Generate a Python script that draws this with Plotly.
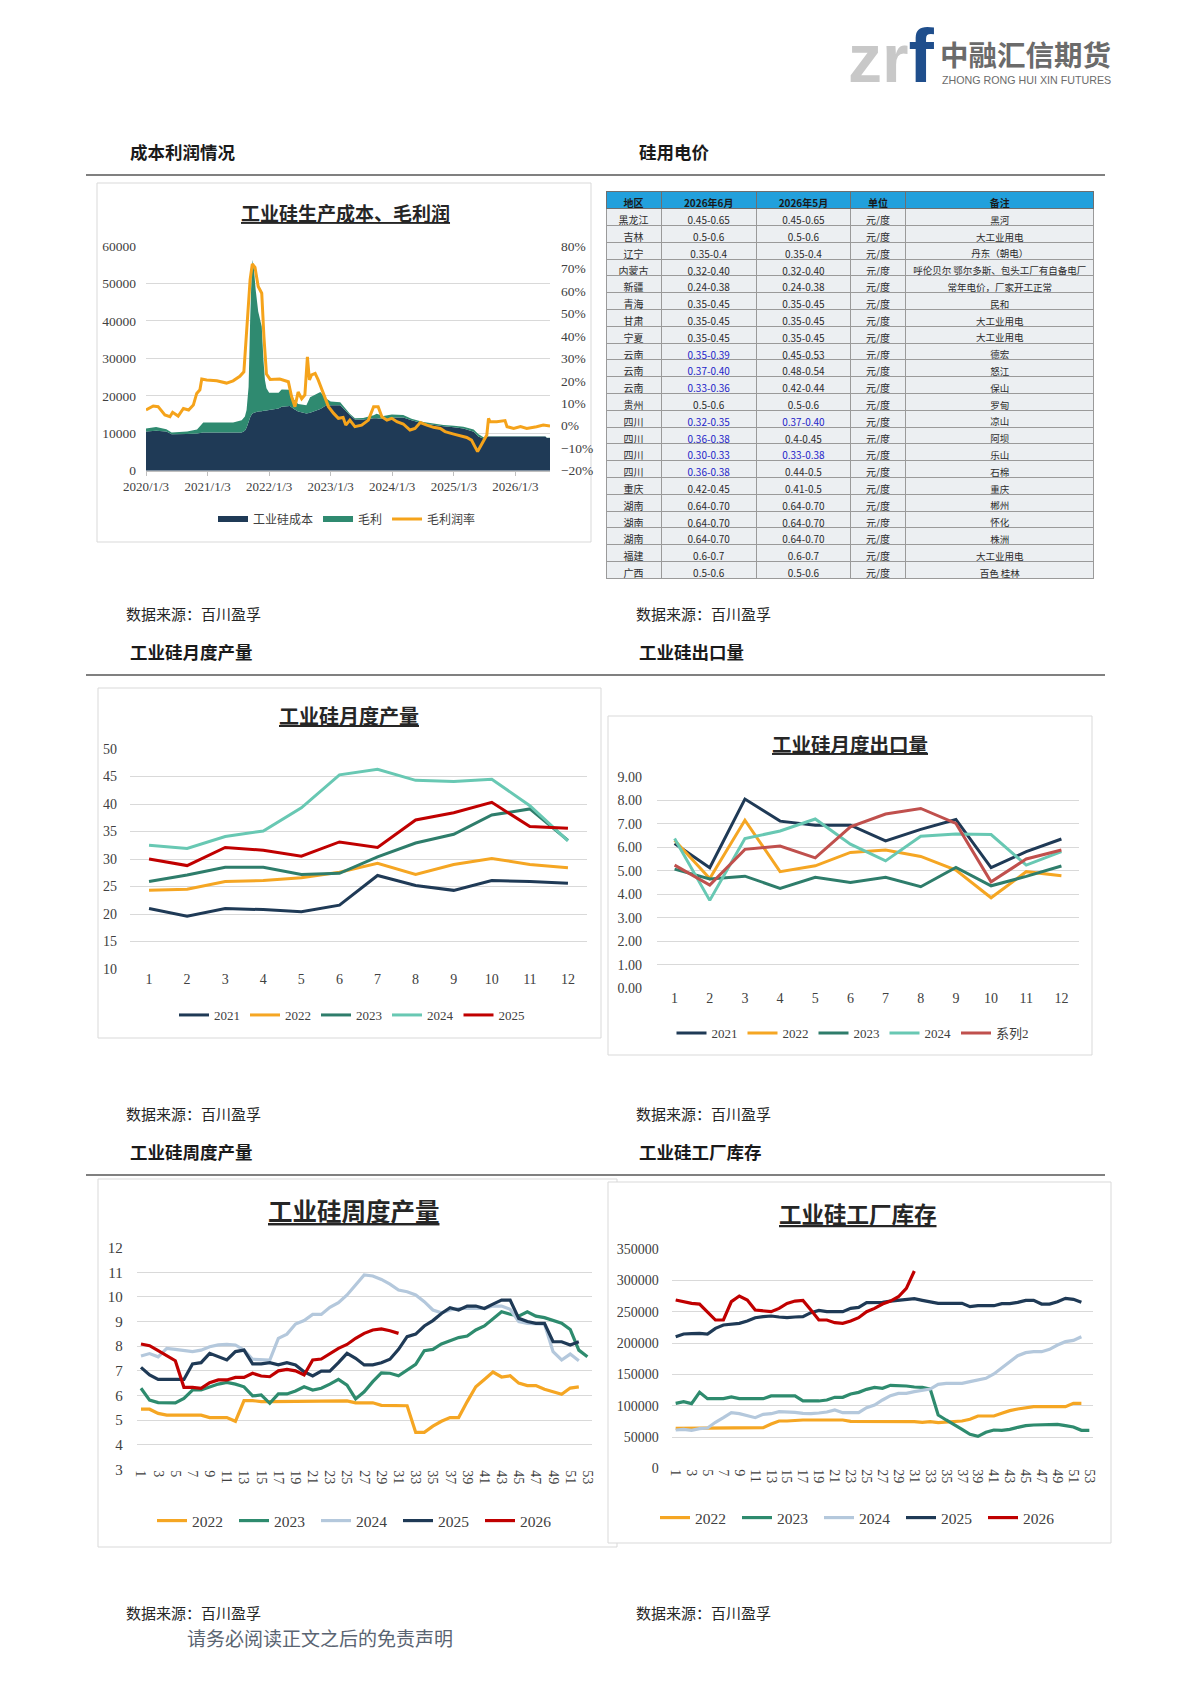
"""
工业硅 周报页面 - 成本利润 / 电价 / 产量 / 出口 / 库存
One page, drawn as a single plotly figure (1190 x 1683).
"""

import plotly.graph_objects as go

# -----------------------------------------
# DATA
# -----------------------------------------
# 工业硅生产成本、毛利润
area_dates = [
    "2020-01-03", "2020-03-03", "2020-05-03", "2020-06-03", "2020-09-03", "2020-11-01", "2020-12-08",
    "2021-06-03", "2021-07-24", "2021-08-12", "2021-08-22", "2021-09-03", "2021-09-12", "2021-09-21",
    "2021-09-27", "2021-10-05", "2021-10-15", "2021-10-30", "2021-11-20", "2021-11-30", "2021-12-09",
    "2021-12-18", "2022-01-03", "2022-02-28", "2022-03-18", "2022-05-06", "2022-05-30", "2022-06-24",
    "2022-08-12", "2022-09-03", "2022-11-03", "2022-12-01", "2023-01-03", "2023-03-01", "2023-03-28",
    "2023-04-27", "2023-05-27", "2023-07-15", "2023-09-15", "2023-10-03", "2023-11-12", "2024-01-01",
    "2024-03-09", "2024-04-27", "2024-07-06", "2024-11-03", "2025-01-03", "2025-03-01", "2025-05-01",
    "2025-05-28", "2025-06-28", "2025-07-28", "2026-06-30", "2026-07-10", "2026-07-28",
]
cost = [
    10500, 10700, 10500, 9700, 9800, 9900, 10200, 10200, 10200, 10700,
    11500, 13000, 14200, 15000, 15300, 15500, 15600, 15800, 15900, 16000,
    16000, 16100, 16200, 16600, 17100, 17300, 16500, 15800, 15300, 15500,
    16500, 17300, 17500, 17500, 16200, 14900, 13700, 13700, 14000, 14000,
    13800, 14200, 14200, 13500, 12600, 11900, 11600, 11300, 10400, 9100,
    8600, 9100, 9100, 8700, 8700,
]
gross = [
    800, 1000, 600, 500, 700, 1100, 2700, 2700, 3300, 3800,
    4700, 9400, 25800, 37700, 41000, 38100, 32700, 26700, 22600, 13600,
    8200, 5900, 4600, 4200, 4600, 4300, 2500, 2000, 2200, 4100,
    4500, 2200, 1000, 800, 600, 300, 300, 400, 800, 1200,
    800, 800, 700, 400, 400, 300, 400, 450, 600, 700,
    300, 100, 100, 100, 100,
]
margin_dates = [
    "2020-01-03", "2020-02-15", "2020-03-15", "2020-04-24", "2020-05-24", "2020-06-09", "2020-07-12",
    "2020-08-12", "2020-09-12", "2020-10-10", "2020-10-30", "2020-11-18", "2020-11-29", "2020-12-28",
    "2021-02-26", "2021-04-25", "2021-06-03", "2021-07-13", "2021-08-06", "2021-08-22", "2021-09-12",
    "2021-09-25", "2021-10-11", "2021-10-30", "2021-11-20", "2021-12-03", "2021-12-18", "2022-01-09",
    "2022-03-07", "2022-04-27", "2022-05-16", "2022-06-05", "2022-06-24", "2022-07-15", "2022-08-03",
    "2022-08-18", "2022-08-30", "2022-09-12", "2022-10-03", "2022-10-21", "2022-11-21", "2022-12-21",
    "2023-01-21", "2023-02-18", "2023-03-18", "2023-04-03", "2023-04-27", "2023-05-27", "2023-07-06",
    "2023-08-15", "2023-09-15", "2023-10-12", "2023-11-03", "2023-12-03", "2024-01-01", "2024-01-31",
    "2024-03-09", "2024-04-18", "2024-05-18", "2024-06-18", "2024-07-27", "2024-09-05", "2024-10-15",
    "2024-11-12", "2025-01-03", "2025-02-12", "2025-03-21", "2025-04-18", "2025-05-09", "2025-05-24",
    "2025-06-09", "2025-06-28", "2025-07-18", "2025-07-28", "2025-08-06", "2025-09-15", "2025-11-03",
    "2025-11-15", "2025-12-24", "2026-02-03", "2026-03-12", "2026-05-09", "2026-06-18", "2026-07-28",
]
margin_rate = [
    7.0, 8.8, 8.5, 4.8, 4.0, 6.0, 4.3, 7.7, 7.0, 9.2,
    14.4, 16.0, 20.8, 20.4, 20.0, 19.0, 20.0, 22.0, 24.0, 41.0,
    65.0, 72.0, 70.5, 62.0, 59.0, 39.6, 23.0, 20.6, 20.8, 19.6,
    13.0, 8.5, 15.0, 12.0, 13.7, 30.7, 20.4, 22.6, 23.3, 20.4,
    14.4, 8.5, 5.5, 3.3, 3.7, 0.3, 2.5, -0.4, 0.3, 2.5,
    8.5, 8.5, 4.0, 2.5, 3.3, 1.8, 0.8, -1.9, -1.2, 1.4,
    0.3, -0.7, -1.2, -2.6, -3.7, -4.6, -5.2, -6.4, -9.3, -11.5,
    -9.3, -7.0, -4.1, 3.3, 1.8, 1.8, 2.3, -0.4, -1.2, -0.4,
    -1.2, -0.4, 0.3, -0.1,
]
year_ticks = ["2020-01-03", "2021-01-03", "2022-01-03", "2023-01-03", "2024-01-03", "2025-01-03", "2026-01-03"]
year_labels = ["2020/1/3", "2021/1/3", "2022/1/3", "2023/1/3", "2024/1/3", "2025/1/3", "2026/1/3"]

# 硅用电价
table_header = ["地区", "2026年6月", "2026年5月", "单位", "备注"]
regions = ["黑龙江", "吉林", "辽宁", "内蒙古", "新疆", "青海", "甘肃", "宁夏", "云南", "云南", "云南",
           "贵州", "四川", "四川", "四川", "四川", "重庆", "湖南", "湖南", "湖南", "福建", "广西"]
price_jun = ["0.45-0.65", "0.5-0.6", "0.35-0.4", "0.32-0.40", "0.24-0.38", "0.35-0.45", "0.35-0.45",
             "0.35-0.45", "0.35-0.39", "0.37-0.40", "0.33-0.36", "0.5-0.6", "0.32-0.35", "0.36-0.38",
             "0.30-0.33", "0.36-0.38", "0.42-0.45", "0.64-0.70", "0.64-0.70", "0.64-0.70", "0.6-0.7", "0.5-0.6"]
price_may = ["0.45-0.65", "0.5-0.6", "0.35-0.4", "0.32-0.40", "0.24-0.38", "0.35-0.45", "0.35-0.45",
             "0.35-0.45", "0.45-0.53", "0.48-0.54", "0.42-0.44", "0.5-0.6", "0.37-0.40", "0.4-0.45",
             "0.33-0.38", "0.44-0.5", "0.41-0.5", "0.64-0.70", "0.64-0.70", "0.64-0.70", "0.6-0.7", "0.5-0.6"]
jun_changed = [0, 0, 0, 0, 0, 0, 0, 0, 1, 1, 1, 0, 1, 1, 1, 1, 0, 0, 0, 0, 0, 0]
may_changed = [0, 0, 0, 0, 0, 0, 0, 0, 0, 0, 0, 0, 1, 0, 1, 0, 0, 0, 0, 0, 0, 0]
notes = ["黑河", "大工业用电", "丹东（朝电）", "呼伦贝尔\u00a0鄂尔多斯、包头工厂有自备电厂", "常年电价，厂家开工正常",
         "民和", "大工业用电", "大工业用电", "德宏", "怒江", "保山", "罗甸", "凉山", "阿坝", "乐山", "石棉",
         "重庆", "郴州", "怀化", "株洲", "大工业用电", "百色\u00a0桂林"]

# 工业硅月度产量 (万吨)
months = [1, 2, 3, 4, 5, 6, 7, 8, 9, 10, 11, 12]
prod_2021 = [21.0, 19.6, 21.0, 20.8, 20.4, 21.6, 27.0, 25.2, 24.3, 26.1, 25.9, 25.6]
prod_2022 = [24.3, 24.5, 25.9, 26.1, 26.6, 27.6, 29.2, 27.2, 29.0, 30.1, 29.0, 28.4]
prod_2023 = [25.9, 27.1, 28.5, 28.5, 27.2, 27.4, 30.4, 32.9, 34.5, 38.0, 39.1, 33.4]
prod_2024 = [32.5, 31.9, 34.1, 35.1, 39.3, 45.3, 46.3, 44.3, 44.1, 44.5, 39.7, 33.3]
prod_2025 = [30.0, 28.8, 32.1, 31.6, 30.5, 33.1, 32.1, 37.1, 38.4, 40.3, 35.9, 35.6]

# 工业硅月度出口量 (万吨)
exp_2021 = [6.16, 5.13, 8.05, 7.11, 6.94, 6.94, 6.27, 6.76, 7.18, 5.13, 5.81, 6.35]
exp_2022 = [6.30, 4.67, 7.15, 4.96, 5.21, 5.78, 5.88, 5.61, 5.03, 3.85, 4.96, 4.79]
exp_2023 = [5.07, 4.65, 4.77, 4.25, 4.72, 4.50, 4.72, 4.32, 5.14, 4.36, 4.76, 5.20]
exp_2024 = [6.37, 3.74, 6.37, 6.69, 7.20, 6.13, 5.42, 6.47, 6.56, 6.54, 5.24, 5.81]
exp_s2 = [5.24, 4.39, 5.91, 6.05, 5.55, 6.87, 7.41, 7.65, 7.01, 4.53, 5.50, 5.88]

# 工业硅周度产量 (万吨)
wk_2022 = [5.44, 5.44, 5.27, 5.20, 5.20, 5.20, 5.20, 5.20, 5.10, 5.10,
           5.10, 4.95, 5.79, 5.79, 5.75, 5.75, 5.75, 5.75, 5.75, 5.75,
           5.78, 5.78, 5.78, 5.78, 5.78, 5.70, 5.70, 5.70, 5.60, 5.60,
           5.60, 5.58, 4.50, 4.50, 4.75, 4.95, 5.10, 5.10, 5.75, 6.35,
           6.65, 6.95, 6.75, 6.80, 6.50, 6.40, 6.40, 6.25, 6.15, 6.05,
           6.30, 6.35]
wk_2023 = [6.29, 5.81, 5.71, 5.70, 5.70, 5.88, 6.22, 6.22, 6.33, 6.46,
           6.53, 6.46, 6.35, 5.98, 6.02, 5.68, 6.06, 6.06, 6.18, 6.35,
           6.22, 6.29, 6.46, 6.65, 6.42, 5.86, 6.15, 6.56, 6.92, 6.90,
           6.80, 7.03, 7.26, 7.82, 7.87, 8.09, 8.22, 8.35, 8.41, 8.66,
           8.82, 9.09, 9.40, 9.30, 9.22, 9.40, 9.22, 9.16, 9.04, 8.93,
           8.68, 7.84, 7.57]
wk_2024 = [7.60, 7.70, 7.57, 7.91, 7.87, 7.84, 7.78, 7.84, 7.98, 8.05,
           8.07, 8.05, 7.84, 7.47, 7.47, 7.44, 8.32, 8.49, 8.90, 9.04,
           9.29, 9.29, 9.58, 9.77, 10.08, 10.48, 10.89, 10.85, 10.71, 10.52,
           10.28, 10.21, 10.08, 9.81, 9.47, 9.36, 9.47, 9.53, 9.53, 9.53,
           9.53, 9.63, 9.63, 9.50, 9.00, 8.93, 8.93, 8.90, 7.78, 7.44,
           7.68, 7.41]
wk_2025 = [7.14, 6.83, 6.65, 6.65, 6.65, 6.65, 7.28, 7.33, 7.71, 7.57,
           7.44, 7.78, 7.84, 7.28, 7.28, 7.33, 7.24, 7.33, 7.24, 6.96,
           6.79, 6.99, 6.99, 7.33, 7.71, 7.51, 7.24, 7.24, 7.33, 7.47,
           7.87, 8.39, 8.49, 8.82, 9.04, 9.33, 9.56, 9.47, 9.63, 9.63,
           9.53, 9.71, 9.87, 9.87, 9.13, 9.00, 8.93, 8.93, 8.18, 8.18,
           8.05, 8.18]
wk_2026 = [8.09, 8.02, 7.82, 7.61, 7.41, 6.33, 6.33, 6.29, 6.52, 6.63,
           6.63, 6.73, 6.73, 6.90, 6.79, 6.76, 7.00, 7.06, 7.00, 6.83,
           7.44, 7.48, 7.71, 7.91, 8.07, 8.32, 8.52, 8.66, 8.70, 8.63,
           8.52]

# 工业硅工厂库存 (吨)
inv_2022 = [63900, 63900, 63900, 63900, 63900, 63900, 63900, 63900, 63900, 63900,
            63900, 65000, 70800, 75600, 75600, 76700, 77200, 77200, 77200, 77200,
            77200, 77200, 75100, 75100, 75100, 75100, 75100, 75100, 75100, 75100,
            74600, 73500, 74600, 73000, 73500, 74600, 75600, 78300, 83600, 83600,
            83600, 87900, 92100, 94800, 96900, 98500, 98500, 98500, 98500, 98500,
            103800, 103800]
inv_2023 = [103800, 106500, 103300, 121400, 111300, 111300, 111300, 114000, 111300, 111300,
            111300, 111300, 115600, 115600, 115600, 115600, 107600, 107600, 107600, 109200,
            113400, 113400, 118700, 121400, 126200, 129400, 127800, 132600, 132600, 131500,
            129900, 129400, 126700, 85200, 77200, 70300, 62300, 54300, 51100, 57500,
            61200, 60700, 62300, 65500, 68200, 69200, 69200, 70300, 70300, 68200,
            66000, 60700, 60700]
inv_2024 = [61200, 62300, 60700, 63400, 64400, 73500, 80900, 88900, 87300, 83600,
            80900, 86300, 87300, 90500, 90500, 89500, 87900, 87300, 88400, 90000,
            93200, 88900, 88900, 88900, 96900, 101200, 109200, 116100, 119800, 119800,
            122500, 124100, 126700, 134200, 135800, 135800, 135800, 138500, 140600, 143800,
            150700, 160800, 170400, 180000, 184800, 186400, 186400, 190100, 197000, 202400,
            204500, 210300]
inv_2025 = [210300, 214600, 215100, 215700, 214600, 223700, 229000, 230000, 231600, 235400,
            240700, 242300, 243400, 241800, 240700, 241800, 242300, 248700, 252400, 250300,
            250300, 250300, 255600, 257200, 264700, 264700, 265200, 267300, 268900, 269400,
            271000, 268400, 266300, 263600, 263600, 263600, 263600, 258300, 259900, 259900,
            259900, 263100, 263100, 265200, 268400, 268400, 262500, 262500, 266300, 271600,
            270000, 265200]
inv_2026 = [268900, 266300, 263600, 262500, 250300, 237000, 237000, 266300, 275300, 268900,
            252900, 251300, 250300, 255600, 263600, 267300, 268400, 252900, 237000, 237000,
            232700, 231600, 235400, 240700, 250300, 255600, 262500, 267300, 274200, 287600,
            315300]

week_ticks = list(range(1, 54, 2))

# -----------------------------------------
# SETTINGS
# -----------------------------------------
PAGE_W, PAGE_H = 1190, 1683
PAGE_PAD = 8          # the html body margin shifts the whole figure by this much
CJK = "Noto Sans CJK SC"
SERIF = "Liberation Serif"
SERIF_CJK = "Liberation Serif, Noto Sans CJK SC"
GRID = "#D9D9D9"
TICK_COLOR = "#404040"

NAVY = "#1F3A56"
ORANGE = "#F5A623"
TEAL = "#2E7D6B"
AQUA = "#68C8B3"
RED = "#C00000"
ROSE = "#C0504D"
SKY = "#B4C8DC"


def fx(x):
    return (x - PAGE_PAD) / PAGE_W


def fy(y):
    return 1 - (y - PAGE_PAD) / PAGE_H


def week_x(values):
    return list(range(1, len(values) + 1))


fig = go.Figure()

# -----------------------------------------
# Chart 1 — 工业硅生产成本、毛利润
# -----------------------------------------
fig.add_trace(go.Scatter(
    x=area_dates, y=cost, name="工业硅成本", stackgroup="cost",
    mode="none", fillcolor=NAVY, xaxis="x", yaxis="y", legend="legend",
))
fig.add_trace(go.Scatter(
    x=area_dates, y=gross, name="毛利", stackgroup="cost",
    mode="none", fillcolor="#2F8A70", xaxis="x", yaxis="y", legend="legend",
))
fig.add_trace(go.Scatter(
    x=margin_dates, y=margin_rate, name="毛利润率", mode="lines",
    line=dict(color="#F5A31B", width=3), xaxis="x", yaxis="y2", legend="legend",
))

# -----------------------------------------
# Chart 2 — 硅用电价 table
# -----------------------------------------
BLUE_TXT = "#2424C8"
DARK_TXT = "#2B2B2B"
fig.add_trace(go.Table(
    domain=dict(x=[fx(606), fx(1094)], y=[fy(583), fy(191)]),
    columnwidth=[55, 95, 94, 55, 188],
    header=dict(
        values=table_header,
        fill_color="#22A0DC",
        line=dict(color="#6F6F6F", width=1),
        font=dict(family=CJK, size=10, color="#1A1A1A", weight="bold"),
        align="center",
        height=17.7,
    ),
    cells=dict(
        values=[regions, price_jun, price_may, ["元/度"] * len(regions), notes],
        fill_color="#ECEFF2",
        line=dict(color="#9A9A9A", width=1),
        font=dict(
            family=CJK, size=[10, 10, 10, 10, 9.5],
            color=[
                [DARK_TXT] * len(regions),
                [BLUE_TXT if c else DARK_TXT for c in jun_changed],
                [BLUE_TXT if c else DARK_TXT for c in may_changed],
                [DARK_TXT] * len(regions),
                [DARK_TXT] * len(regions),
            ],
        ),
        align="center",
        height=16.8,
    ),
))

# -----------------------------------------
# Chart 3 — 工业硅月度产量
# -----------------------------------------
for name, vals, col in [("2021", prod_2021, NAVY), ("2022", prod_2022, ORANGE), ("2023", prod_2023, TEAL),
                        ("2024", prod_2024, AQUA), ("2025", prod_2025, RED)]:
    fig.add_trace(go.Scatter(
        x=months, y=vals, name=name, mode="lines", line=dict(color=col, width=3),
        xaxis="x3", yaxis="y3", legend="legend3",
    ))

# -----------------------------------------
# Chart 4 — 工业硅月度出口量
# -----------------------------------------
for name, vals, col in [("2021", exp_2021, NAVY), ("2022", exp_2022, ORANGE), ("2023", exp_2023, TEAL),
                        ("2024", exp_2024, AQUA), ("系列2", exp_s2, ROSE)]:
    fig.add_trace(go.Scatter(
        x=months, y=vals, name=name, mode="lines", line=dict(color=col, width=3),
        xaxis="x4", yaxis="y4", legend="legend4",
    ))

# -----------------------------------------
# Chart 5 — 工业硅周度产量
# -----------------------------------------
for name, vals, col in [("2022", wk_2022, ORANGE), ("2023", wk_2023, "#2E8B6E"), ("2024", wk_2024, SKY),
                        ("2025", wk_2025, NAVY), ("2026", wk_2026, RED)]:
    fig.add_trace(go.Scatter(
        x=week_x(vals), y=vals, name=name, mode="lines", line=dict(color=col, width=3.2),
        xaxis="x5", yaxis="y5", legend="legend5",
    ))

# -----------------------------------------
# Chart 6 — 工业硅工厂库存
# -----------------------------------------
for name, vals, col in [("2022", inv_2022, ORANGE), ("2023", inv_2023, "#2E8B6E"), ("2024", inv_2024, SKY),
                        ("2025", inv_2025, NAVY), ("2026", inv_2026, RED)]:
    fig.add_trace(go.Scatter(
        x=week_x(vals), y=vals, name=name, mode="lines", line=dict(color=col, width=3.2),
        xaxis="x6", yaxis="y6", legend="legend6",
    ))

# -----------------------------------------
# Axes
# -----------------------------------------
def tick_font(size):
    return dict(family=SERIF, size=size, color=TICK_COLOR)


def yaxis_common(size, standoff):
    return dict(showgrid=True, gridcolor=GRID, gridwidth=1, zeroline=False, showline=False,
                ticks="", tickfont=tick_font(size), ticklabelstandoff=standoff)


def xaxis_common(size):
    return dict(showgrid=False, zeroline=False, showline=False, ticks="", tickfont=tick_font(size))


layout_axes = dict(
    xaxis=dict(
        domain=[fx(146), fx(550)], anchor="y", type="date",
        range=["2020-01-03", "2026-07-28"],
        tickmode="array", tickvals=year_ticks, ticktext=year_labels,
        showgrid=False, zeroline=False, showline=True, linecolor="#BFBFBF",
        ticks="outside", ticklen=4, tickcolor="#BFBFBF", tickfont=tick_font(13),
    ),
    yaxis=dict(domain=[fy(470.7), fy(246)], anchor="x", range=[0, 60000], dtick=10000,
               tickformat="d", **yaxis_common(13.5, 9)),
    yaxis2=dict(overlaying="y", side="right", anchor="x", range=[-20, 80], dtick=10,
                ticksuffix="%", showgrid=False, zeroline=False, showline=False,
                tickfont=tick_font(13.5), ticklabelstandoff=10),
    xaxis3=dict(domain=[fx(130), fx(587)], anchor="y3", range=[0.5, 12.5],
                tickmode="array", tickvals=months, **xaxis_common(14)),
    yaxis3=dict(domain=[fy(969), fy(749)], anchor="x3", range=[10, 50], dtick=5,
                **yaxis_common(14, 12)),
    xaxis4=dict(domain=[fx(657), fx(1079)], anchor="y4", range=[0.5, 12.5],
                tickmode="array", tickvals=months, **xaxis_common(14)),
    yaxis4=dict(domain=[fy(988.3), fy(776.7)], anchor="x4", range=[0, 9], dtick=1,
                tickformat=".2f", **yaxis_common(14, 14)),
    xaxis5=dict(domain=[fx(136.7), fx(591.7)], anchor="y5", range=[0.5, 53.5],
                tickmode="array", tickvals=week_ticks, tickangle=90, **xaxis_common(14)),
    yaxis5=dict(domain=[fy(1469.3), fy(1247.7)], anchor="x5", range=[3, 12], dtick=1,
                **yaxis_common(15, 13)),
    xaxis6=dict(domain=[fx(671.7), fx(1093.3)], anchor="y6", range=[0.5, 53.5],
                tickmode="array", tickvals=week_ticks, tickangle=90, **xaxis_common(14)),
    yaxis6=dict(domain=[fy(1468.3), fy(1249.3)], anchor="x6", range=[0, 350000], dtick=50000,
                tickformat="d", **yaxis_common(14, 12)),
)


def legend_at(x, y, size, entry=0):
    return dict(x=fx(x), y=fy(y), xanchor="center", yanchor="middle", orientation="h",
                xref="paper", yref="paper", bgcolor="rgba(0,0,0,0)", traceorder="normal",
                font=dict(family=SERIF_CJK, size=size, color="#404040"), itemwidth=30,
                entrywidth=entry, entrywidthmode="pixels")


# -----------------------------------------
# Page furniture: boxes, rules, headings, logo
# -----------------------------------------
shapes = []
for x0, y0, x1, y1 in [(97, 183, 591, 542), (98, 688, 601, 1038), (608, 716, 1092, 1055),
                       (98, 1179, 617, 1547), (608, 1182, 1111, 1543)]:
    shapes.append(dict(type="rect", xref="paper", yref="paper", x0=fx(x0), x1=fx(x1), y0=fy(y1), y1=fy(y0),
                       line=dict(color="#D9D9D9", width=1), fillcolor="white", layer="below"))
for y in [175, 675, 1175]:
    shapes.append(dict(type="line", xref="paper", yref="paper", x0=fx(86), x1=fx(1105), y0=fy(y), y1=fy(y),
                       line=dict(color="#808080", width=2)))

annotations = []


def text_at(x, y, text, size, color="#1A1A1A", family=CJK, xanchor="left", yanchor="middle"):
    annotations.append(dict(x=fx(x), y=fy(y), xref="paper", yref="paper", text=text, showarrow=False,
                            xanchor=xanchor, yanchor=yanchor, font=dict(family=family, size=size, color=color)))


# section headings
for x, y, t in [(128, 151, "成本利润情况"), (637, 151, "硅用电价"),
                (128, 651, "工业硅月度产量"), (637, 651, "工业硅出口量"),
                (128, 1151, "工业硅周度产量"), (637, 1151, "工业硅工厂库存")]:
    text_at(x, y, "<b>" + t + "</b>", 17.5)

# data source lines
for x, y in [(124, 613), (634, 613), (124, 1113), (634, 1113), (124, 1612), (634, 1612)]:
    text_at(x, y, "数据来源：百川盈孚", 15, color="#262626")

# chart titles
for x, y, t, s in [(345, 212, "工业硅生产成本、毛利润", 19), (349, 715, "工业硅月度产量", 20),
                   (850, 743, "工业硅月度出口量", 19.5), (354, 1210, "工业硅周度产量", 24.5),
                   (858, 1213, "工业硅工厂库存", 22.5)]:
    text_at(x, y, "<b><u>" + t + "</u></b>", s, color="#262626", xanchor="center")

# footer
text_at(185, 1637, "请务必阅读正文之后的免责声明", 19, color="#5A6472")

# logo: grey "zr" + blue "f" in one text line, then the company name
text_at(846, 100, "<b>zr<span style='color:#1F4E8C;font-size:76px'>f</span></b>", 68,
        color="#C8C8C8", family="Liberation Sans", yanchor="bottom")
text_at(938, 54, "<b>中融汇信期货</b>", 28.5, color="#6B6B6B")
text_at(940, 80, "ZHONG RONG HUI XIN FUTURES", 10.7, color="#6B6B6B", family="Liberation Sans")

fig.update_layout(
    width=PAGE_W, height=PAGE_H,
    margin=dict(l=0, r=0, t=0, b=0, autoexpand=False),
    paper_bgcolor="white", plot_bgcolor="rgba(0,0,0,0)",
    showlegend=True,
    legend=legend_at(347, 519, 12),
    legend3=legend_at(352, 1015, 13),
    legend4=legend_at(853, 1033, 13),
    legend5=legend_at(357, 1521, 15.5, 37),
    legend6=legend_at(860, 1518, 15.5, 37),
    shapes=shapes,
    annotations=annotations,
    **layout_axes,
)

fig.write_html("out.html")
